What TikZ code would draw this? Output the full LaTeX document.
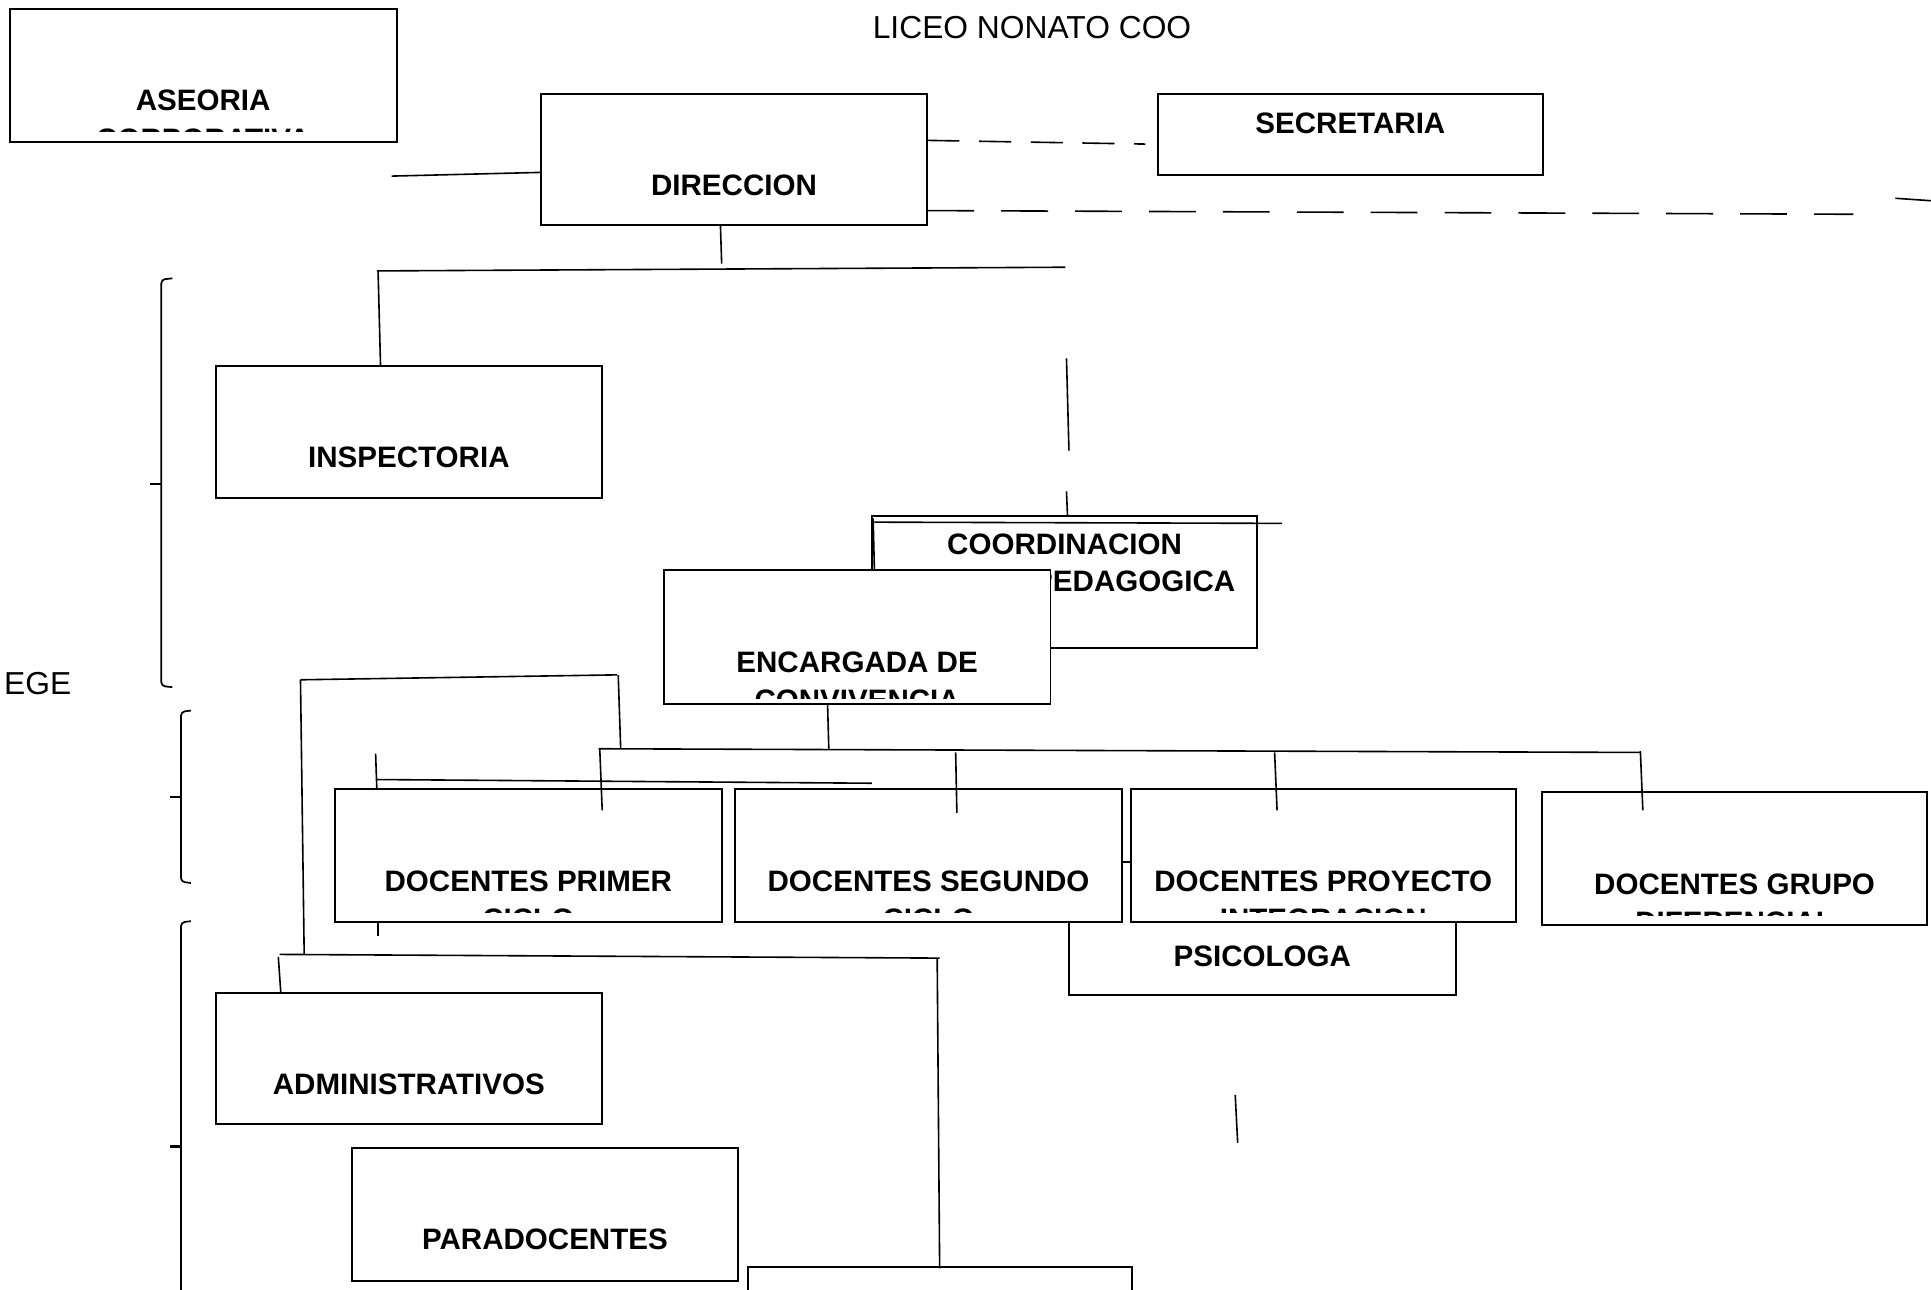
\documentclass[tikz,border=0pt]{standalone}
\usepackage{fontspec}
\setmainfont{Liberation Sans}
\tikzset{
  orgframe/.style={draw, fill=white, line width=0.8pt},
  conn/.style={line width=0.65pt},
  dashA/.style={line width=0.65pt, dash pattern=on 13pt off 8pt},
  dashB/.style={line width=0.65pt, dash pattern=on 19pt off 11pt},
  brack/.style={line width=0.7pt, rounded corners=1.5pt},
  lbl/.style={font=\fontsize{12}{14}\selectfont\bfseries, inner sep=0pt, anchor=base},
  plaintxt/.style={font=\fontsize{12.9}{15}\selectfont, inner sep=0pt, anchor=base},
}
% name, x1, y1, x2, y2, line1, line2, clip inset
\newcommand\orgbox[8]{%
  \coordinate (#1-nw) at (#2,#3);
  \coordinate (#1-se) at (#4,#5);
  \path[orgframe] (#1-nw) rectangle (#1-se);
  \begin{scope}
    \clip ({#2},{#3}) rectangle ({#4},{#5-#8});
    \node[lbl] (#1) at ({(#2+#4)/2},{#3+83}) {#6};
    \node[lbl] (#1-2) at ({(#2+#4)/2},{#3+114}) {#7};
  \end{scope}
}
\newcommand\seg[4][conn]{%
  \coordinate (#2a) at (#3);
  \coordinate (#2b) at (#4);
  \draw[#1] (#2a) -- (#2b);
}
\begin{document}
\begin{tikzpicture}[x=0.5pt, y=-0.5pt]
\useasboundingbox (0,0) rectangle (1568,1047);
\fill[white] (0,0) rectangle (1568,1047);

% title and side label
\node[plaintxt] (title) at (838,31) {LICEO NONATO COO};
\node[plaintxt, anchor=base west] (ege) at (3,564) {EGE};

% top boxes
\orgbox{aseoria}{8}{7}{322}{115}{ASEORIA}{CORPORATIVA}{8}
\orgbox{direccion}{439}{76}{753}{183}{DIRECCION}{}{8}
\coordinate (secretaria-nw) at (940,76);
\coordinate (secretaria-se) at (1253,142);
\path[orgframe] (secretaria-nw) rectangle (secretaria-se);
\node[lbl] (secretaria) at (1096.5,108.5) {SECRETARIA};
\orgbox{inspectoria}{175}{297}{489}{404}{INSPECTORIA}{}{8}

% top connectors
\seg{l1}{318,143}{439,140}
\seg[dashA]{d1}{753,114}{930,117}
\seg[dashB]{d2}{753,171}{1505,174}
\seg{d3}{1539,161}{1568,163}
\seg{l2}{585,183}{586,214}
\seg{l3}{306,220}{865,217}
\seg{l4}{307,220}{309,297}
\seg{l5}{866,291}{868,366}
\seg{l6}{866,399}{867,423}

% coordinacion
\coordinate (coord-nw) at (708,419);
\coordinate (coord-se) at (1021,526);
\path[orgframe] (coord-nw) rectangle (coord-se);
\node[lbl] (coord) at (864.5,450.5) {COORDINACION};
\node[lbl] (coord-2) at (921,480.5) {PEDAGOGICA};
\seg{c1}{710,424}{1041,425}
\seg{c2}{709,421}{710,462}

% encargada
\orgbox{encargada}{539}{463}{853}{572}{ENCARGADA DE}{CONVIVENCIA}{5}

% psicologa (behind docentes)
\coordinate (psico-nw) at (868,700);
\coordinate (psico-se) at (1182,808);
\path[orgframe] (psico-nw) rectangle (psico-se);
\node[lbl] (psico) at (1025,784.5) {PSICOLOGA};

% docentes
\orgbox{primer}{272}{641}{586}{749}{DOCENTES PRIMER}{CICLO}{8}
\orgbox{segundo}{597}{641}{911}{749}{DOCENTES SEGUNDO}{CICLO}{8}
\orgbox{proyecto}{918}{641}{1231}{749}{DOCENTES PROYECTO}{INTEGRACION}{8}
\orgbox{grupo}{1252}{643}{1565}{751}{DOCENTES GRUPO}{DIFERENCIAL}{8}

% middle connectors
\seg{l7}{672,572}{673,608}
\seg{l8}{486,608}{1332,611}
\seg{l9}{487,608}{489,658}
\seg{l10}{776,611}{777,660}
\seg{l11}{1035,611}{1037,658}
\seg{l12}{1332,610}{1334,658}
\seg{l13}{244,552}{501,548}
\seg{l14}{502,548}{504,608}
\seg{l15}{244,552}{247,775}
\seg{l16}{305,612}{306,641}
\seg{l17}{306,633}{708,636}
\seg{l18}{307,749}{307,760}

% bottom boxes
\orgbox{admin}{175}{806}{489}{913}{ADMINISTRATIVOS}{}{8}
\orgbox{para}{286}{932}{599}{1040}{PARADOCENTES}{}{8}
\coordinate (last-nw) at (607,1029);
\coordinate (last-se) at (919,1060);
\path[orgframe] (last-nw) rectangle (last-se);

% bottom connectors
\seg{l19}{227,775}{763,778}
\seg{l20}{226,777}{228,806}
\seg{l21}{761,778}{763,1030}
\seg{l22}{1003,889}{1005,928}

% brackets
\coordinate (b1t) at (140,226);
\coordinate (b1b) at (140,558);
\draw[brack] (b1t) -- (131,227) -- (131,557) -- (b1b);
\seg[line width=1pt]{t1}{122,393}{131,393}
\coordinate (b2t) at (155,577);
\coordinate (b2b) at (155,717);
\draw[brack] (b2t) -- (147,578) -- (147,716) -- (b2b);
\seg[line width=1pt]{t2}{138,647}{147,647}
\coordinate (b3t) at (155,748);
\coordinate (b3b) at (147,1060);
\draw[brack] (b3t) -- (147,749) -- (b3b);
\seg[line width=1pt]{t3}{138,931}{147,931}
\end{tikzpicture}
\end{document}
